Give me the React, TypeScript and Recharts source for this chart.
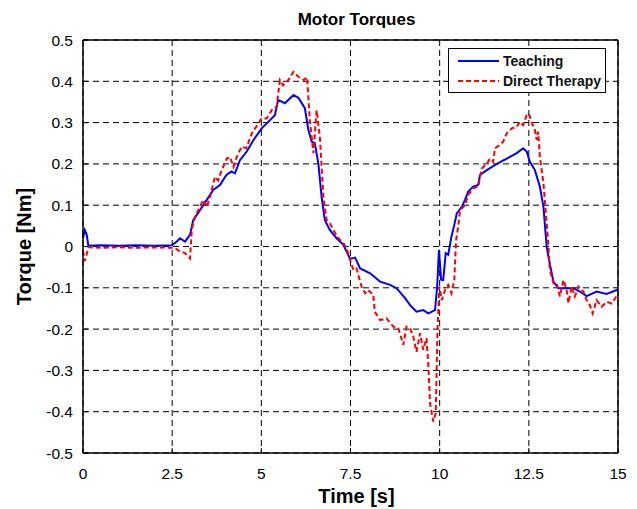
import React from "react";
import {
  LineChart,
  Line,
  XAxis,
  YAxis,
  CartesianGrid,
  Legend,
} from "recharts";

// [time s, torque Nm]
const teaching: [number, number][] = [
  [0, 0.02], [0.05, 0.04], [0.1, 0.03], [0.15, 0.002], [0.5, 0.003], [1.0, 0.002],
  [1.5, 0.003], [2.0, 0.002], [2.49, 0.003], [2.63, 0.012], [2.72, 0.02], [2.86, 0.012],
  [3.0, 0.028], [3.09, 0.064], [3.28, 0.088], [3.47, 0.113], [3.65, 0.137], [3.84, 0.149],
  [4.02, 0.173], [4.16, 0.182], [4.26, 0.177], [4.4, 0.209], [4.59, 0.23], [4.78, 0.258],
  [5.01, 0.286], [5.24, 0.306], [5.38, 0.318], [5.47, 0.355], [5.66, 0.347], [5.9, 0.367],
  [6.04, 0.36], [6.22, 0.335], [6.32, 0.282], [6.41, 0.254], [6.5, 0.25], [6.6, 0.2],
  [6.69, 0.12], [6.78, 0.064], [6.92, 0.04], [7.11, 0.02], [7.3, 0.004], [7.49, -0.03],
  [7.63, -0.027], [7.77, -0.053], [8.05, -0.065], [8.33, -0.085], [8.61, -0.093],
  [8.79, -0.101], [9.03, -0.125], [9.17, -0.142], [9.35, -0.158], [9.54, -0.154],
  [9.68, -0.162], [9.87, -0.154], [9.93, -0.097], [9.98, -0.008], [10.04, -0.08],
  [10.1, -0.081], [10.17, -0.016], [10.24, -0.02], [10.33, 0.024], [10.42, 0.056],
  [10.48, 0.08], [10.62, 0.096], [10.71, 0.113], [10.8, 0.133], [10.94, 0.145],
  [11.08, 0.149], [11.13, 0.173], [11.32, 0.185], [11.6, 0.2], [11.88, 0.213],
  [12.16, 0.226], [12.34, 0.238], [12.44, 0.23], [12.53, 0.205], [12.67, 0.185],
  [12.81, 0.145], [12.91, 0.096], [13.0, 0.0], [13.05, -0.025], [13.19, -0.085],
  [13.33, -0.101], [13.75, -0.101], [13.93, -0.109], [14.12, -0.12], [14.4, -0.109],
  [14.68, -0.115], [15.0, -0.104],
];

const directTherapy: [number, number][] = [
  [0, -0.01], [0.05, -0.035], [0.1, -0.02], [0.15, -0.002], [0.5, -0.003], [1.0, -0.002],
  [1.5, -0.003], [2.0, -0.002], [2.5, -0.003], [2.58, -0.004], [2.72, -0.012], [2.86, -0.016],
  [3.0, -0.029], [3.05, 0.04], [3.09, 0.056], [3.14, 0.072], [3.28, 0.096], [3.37, 0.113],
  [3.47, 0.096], [3.56, 0.12], [3.7, 0.169], [3.79, 0.16], [3.89, 0.185], [4.03, 0.213],
  [4.12, 0.217], [4.22, 0.193], [4.31, 0.217], [4.45, 0.242], [4.58, 0.238], [4.73, 0.274],
  [4.92, 0.298], [5.0, 0.31], [5.15, 0.31], [5.29, 0.33], [5.43, 0.339], [5.52, 0.403],
  [5.61, 0.39], [5.76, 0.403], [5.9, 0.423], [6.04, 0.411], [6.19, 0.403], [6.28, 0.41],
  [6.36, 0.306], [6.46, 0.226], [6.55, 0.33], [6.64, 0.266], [6.74, 0.12], [6.83, 0.064],
  [6.92, 0.056], [7.02, 0.04], [7.16, 0.02], [7.3, 0.008], [7.39, -0.004], [7.49, -0.033],
  [7.58, -0.057], [7.67, -0.053], [7.72, -0.069], [7.81, -0.097], [7.91, -0.113],
  [7.99, -0.105], [8.14, -0.117], [8.18, -0.158], [8.33, -0.178], [8.51, -0.174],
  [8.7, -0.194], [8.84, -0.198], [8.98, -0.238], [9.07, -0.194], [9.17, -0.198],
  [9.26, -0.218], [9.35, -0.255], [9.45, -0.21], [9.54, -0.25], [9.63, -0.222],
  [9.68, -0.283], [9.73, -0.38], [9.82, -0.424], [9.89, -0.404], [9.94, -0.202],
  [9.99, -0.097], [10.06, -0.13], [10.15, -0.105], [10.24, -0.093], [10.33, -0.113],
  [10.41, -0.081], [10.46, 0.016], [10.52, 0.048], [10.57, 0.088], [10.71, 0.1],
  [10.8, 0.125], [10.94, 0.141], [11.08, 0.145], [11.18, 0.189], [11.32, 0.2],
  [11.41, 0.213], [11.5, 0.205], [11.55, 0.238], [11.69, 0.246], [11.78, 0.254],
  [11.88, 0.274], [12.02, 0.286], [12.16, 0.29], [12.25, 0.302], [12.34, 0.294],
  [12.44, 0.318], [12.5, 0.322], [12.59, 0.298], [12.67, 0.282], [12.72, 0.258],
  [12.76, 0.278], [12.81, 0.217], [12.91, 0.153], [13.0, 0.056], [13.05, 0.0],
  [13.09, -0.057], [13.19, -0.089], [13.28, -0.089], [13.37, -0.121], [13.47, -0.081],
  [13.56, -0.105], [13.61, -0.137], [13.7, -0.097], [13.79, -0.121], [13.89, -0.097],
  [14.03, -0.109], [14.12, -0.13], [14.21, -0.142], [14.29, -0.162], [14.4, -0.13],
  [14.54, -0.146], [14.68, -0.134], [14.82, -0.138], [15.0, -0.115],
];

const seriesNames = ["Teaching", "Direct Therapy"];
const timeTicks = [0, 2.5, 5, 7.5, 10, 12.5, 15];
const torqueTicks = [-0.5, -0.4, -0.3, -0.2, -0.1, 0, 0.1, 0.2, 0.3, 0.4, 0.5];

const font = "'Liberation Sans', Arial, sans-serif";
const tickStyle = { fill: "#000", fontSize: 15.5, fontFamily: font };

const teachingData = teaching.map(([t, v]) => ({ t, v }));
const therapyData = directTherapy.map(([t, v]) => ({ t, v }));

function formatTorque(v: number) {
  return Math.abs(v) < 1e-9 ? "0" : v.toFixed(1);
}

function LegendBox({ payload }: any) {
  const items = [...(payload || [])].sort(
    (a: any, b: any) => seriesNames.indexOf(a.value) - seriesNames.indexOf(b.value)
  );
  return (
    <div
      style={{
        border: "1.5px solid #000",
        background: "#fff",
        width: 156,
        height: 41,
        boxSizing: "content-box",
        fontFamily: font,
        fontWeight: "bold",
        fontSize: 14,
        paddingTop: 2,
      }}
    >
      {items.map((item: any) => (
        <div
          key={item.value}
          style={{ display: "flex", alignItems: "center", height: 20 }}
        >
          <svg width={54} height={10} style={{ flex: "none" }}>
            <line
              x1={9}
              x2={50}
              y1={5}
              y2={5}
              stroke={item.color}
              strokeWidth={2}
              strokeDasharray={item.payload?.strokeDasharray}
            />
          </svg>
          <span style={{ color: "#111" }}>{item.value}</span>
        </div>
      ))}
    </div>
  );
}

export default function App() {
  return (
    <div style={{ position: "absolute", left: 0, top: 0, background: "#fff" }}>
      <LineChart
        width={637}
        height={509}
        margin={{ top: 39, right: 18, bottom: 0, left: 0 }}
      >
        <CartesianGrid
          stroke="#000"
          strokeDasharray="6 4"
          strokeWidth={1}
        />
        <XAxis
          dataKey="t"
          type="number"
          domain={[0, 15]}
          ticks={timeTicks}
          height={56}
          allowDuplicatedCategory={false}
          tick={tickStyle}
          tickSize={-5}
          tickMargin={20}
          axisLine={{ stroke: "#000", strokeWidth: 1.5 }}
          tickLine={{ stroke: "#000" }}
          interval={0}
          label={{
            value: "Time [s]",
            position: "insideBottom",
            offset: 6,
            dx: 6,
            style: { fontFamily: font, fontWeight: "bold", fontSize: 20, fill: "#000" },
          }}
        />
        <XAxis
          xAxisId="top"
          orientation="top"
          type="number"
          domain={[0, 15]}
          ticks={timeTicks}
          height={1}
          tick={false}
          tickSize={-5}
          axisLine={{ stroke: "#000", strokeWidth: 1.5 }}
          tickLine={{ stroke: "#000" }}
          interval={0}
          label={{
            value: "Motor Torques",
            position: "top",
            offset: 14,
            dx: 6,
            style: { fontFamily: font, fontWeight: "bold", fontSize: 17, fill: "#000" },
          }}
        />
        <YAxis
          type="number"
          domain={[-0.5, 0.5]}
          ticks={torqueTicks}
          width={83}
          tick={tickStyle}
          tickFormatter={formatTorque}
          tickSize={-5}
          tickMargin={15}
          axisLine={{ stroke: "#000", strokeWidth: 1.5 }}
          tickLine={{ stroke: "#000" }}
          interval={0}
          allowDataOverflow
          label={{
            value: "Torque [Nm]",
            angle: -90,
            position: "insideLeft",
            offset: 24,
            style: {
              fontFamily: font,
              fontWeight: "bold",
              fontSize: 20,
              fill: "#000",
              textAnchor: "middle",
            },
          }}
        />
        <YAxis
          yAxisId="right"
          orientation="right"
          type="number"
          domain={[-0.5, 0.5]}
          ticks={torqueTicks}
          width={1}
          tick={false}
          tickSize={-5}
          axisLine={{ stroke: "#000", strokeWidth: 1.5 }}
          tickLine={{ stroke: "#000" }}
          interval={0}
        />
        <Legend
          layout="horizontal"
          verticalAlign="middle"
          align="center"
          wrapperStyle={{ top: 48, left: 448, width: 160 }}
          content={<LegendBox />}
        />
        <Line
          name="Teaching"
          data={teachingData}
          dataKey="v"
          type="linear"
          stroke="#0000ff"
          strokeWidth={2}
          dot={false}
          activeDot={false}
          isAnimationActive={false}
        />
        <Line
          name="Direct Therapy"
          data={therapyData}
          dataKey="v"
          type="linear"
          stroke="#ff0000"
          strokeWidth={2}
          strokeDasharray="5 3"
          dot={false}
          activeDot={false}
          isAnimationActive={false}
        />
      </LineChart>
    </div>
  );
}
